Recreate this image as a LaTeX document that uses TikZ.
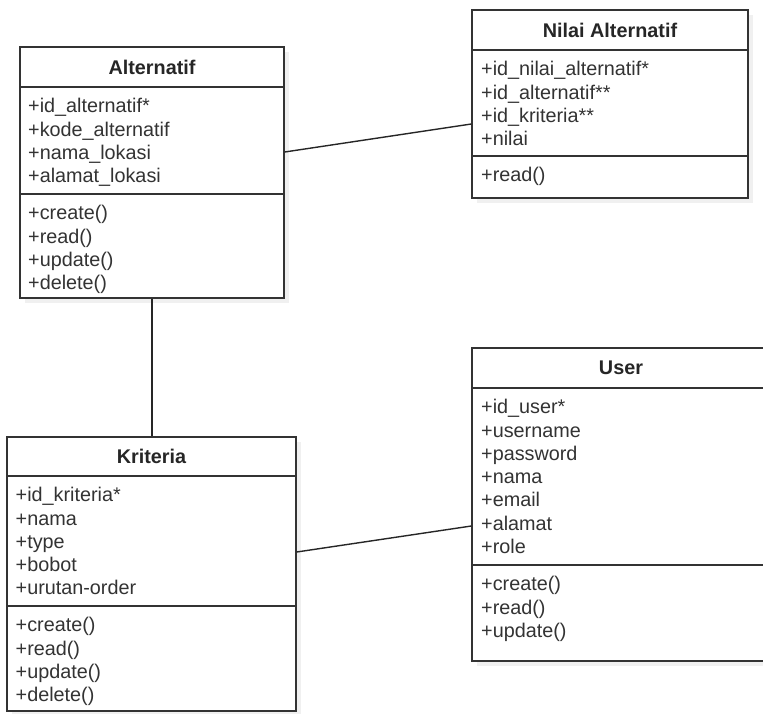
\documentclass[tikz,border=0pt]{standalone}
\usepackage{fontspec}
\setmainfont{Liberation Sans}
\usetikzlibrary{shadows}

\tikzset{
  classbox/.style={draw=black!80, line width=1.4pt, fill=white, inner sep=0pt,
    drop shadow={shadow xshift=5pt, shadow yshift=-5pt, fill=black!6, opacity=1}},
  classname/.style={font=\fontsize{19.8}{23.3}\selectfont\bfseries, text=black!85, inner sep=0pt},
  members/.style={anchor=base west, text width=250pt, align=left, inner sep=0pt,
    text=black!80, font=\fontsize{19.8}{23.3}\selectfont},
  divider/.style={draw=black!80, line width=1.4pt},
  assoc/.style={draw=black!85, line width=1.4pt}
}

\begin{document}
\begin{tikzpicture}[x=1pt, y=-1pt]
  \useasboundingbox (0, 0) rectangle (763, 713);
  % Draw class boxes
  \node [classbox, minimum width=264pt, minimum height=251pt] (alt) at (152, 172.5) {};
  \node [classbox, minimum width=276pt, minimum height=188pt] (nil) at (610, 104) {};
  \node [classbox, minimum width=289pt, minimum height=274pt] (kri) at (151.5, 574) {};
  \node [classbox, minimum width=298pt, minimum height=313pt] (usr) at (621, 504.5) {};
  % Draw dividers
  \draw [divider] (alt.west |- 0, 87) -- (alt.east |- 0, 87);
  \draw [divider] (alt.west |- 0, 194) -- (alt.east |- 0, 194);
  \draw [divider] (nil.west |- 0, 50) -- (nil.east |- 0, 50);
  \draw [divider] (nil.west |- 0, 156) -- (nil.east |- 0, 156);
  \draw [divider] (kri.west |- 0, 476) -- (kri.east |- 0, 476);
  \draw [divider] (kri.west |- 0, 606) -- (kri.east |- 0, 606);
  \draw [divider] (usr.west |- 0, 388) -- (usr.east |- 0, 388);
  \draw [divider] (usr.west |- 0, 565) -- (usr.east |- 0, 565);
  % Add class names
  \node [classname] (altname) at (152, 67) {Alternatif};
  \node [classname] (nilname) at (610, 30) {Nilai Alternatif};
  \node [classname] (kriname) at (151.5, 456) {Kriteria};
  \node [classname] (usrname) at (621, 368) {User};
  % Add attributes
  \node [members] (altattr) at (28, 112.7) {+id\_alternatif*\\+kode\_alternatif\\+nama\_lokasi\\+alamat\_lokasi};
  \node [members] (nilattr) at (481, 75.7) {+id\_nilai\_alternatif*\\+id\_alternatif**\\+id\_kriteria**\\+nilai};
  \node [members] (kriattr) at (15.5, 501.7) {+id\_kriteria*\\+nama\\+type\\+bobot\\+urutan-order};
  \node [members] (usrattr) at (481, 413.7) {+id\_user*\\+username\\+password\\+nama\\+email\\+alamat\\+role};
  % Add operations
  \node [members] (altops) at (28, 219.7) {+create()\\+read()\\+update()\\+delete()};
  \node [members] (nilops) at (481, 181.7) {+read()};
  \node [members] (kriops) at (15.5, 631.7) {+create()\\+read()\\+update()\\+delete()};
  \node [members] (usrops) at (481, 590.7) {+create()\\+read()\\+update()};
  % Draw associations
  \draw [assoc] ([yshift=20.5pt]alt.east) -- ([yshift=-20pt]nil.west);
  \draw [assoc] (alt.south) -- (alt.south |- kri.north);
  \draw [assoc] ([yshift=22pt]kri.east) -- ([yshift=-21.5pt]usr.west);
\end{tikzpicture}
\end{document}
